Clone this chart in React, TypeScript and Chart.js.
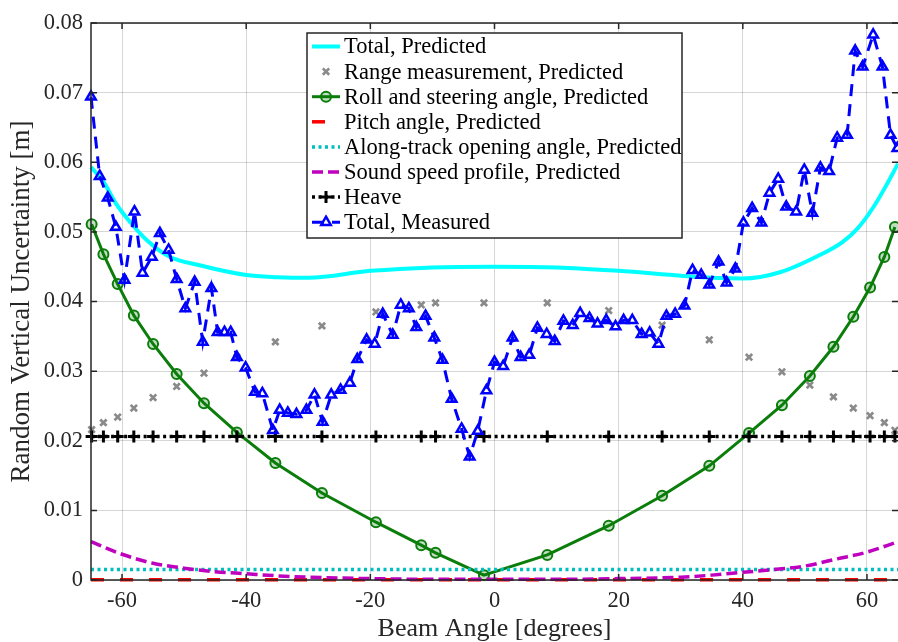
import React, { useEffect, useRef } from 'react';
import { Chart, registerables } from 'chart.js';
import { drawPoint } from 'chart.js/helpers';
Chart.register(...registerables);

// ---------- data ----------
const X_TICKS = [-60, -40, -20, 0, 20, 40, 60];
const Y_TICKS = [0, 0.01, 0.02, 0.03, 0.04, 0.05, 0.06, 0.07, 0.08];

const TOTAL_PRED_X = [-65, -63, -61, -58.5, -56, -52.5, -47.5, -40, -35, -30, -20, -10, 0, 10, 20, 30, 35, 40, 46, 52, 56, 58.5, 61, 63, 65];
const TOTAL_PRED = [0.0593, 0.0572, 0.0541, 0.0512, 0.0488, 0.0465, 0.0452, 0.0438, 0.0435, 0.0434, 0.0444, 0.0449, 0.045, 0.0449, 0.0444, 0.0437, 0.0434, 0.0433, 0.0442, 0.0465, 0.0485, 0.0505, 0.0535, 0.0565, 0.0598];

const ANGLES = [-64.9, -63, -60.7, -58.1, -55, -51.2, -46.8, -41.5, -35.3, -27.8, -19.1, -11.8, -9.5, -1.7, 8.5, 18.4, 27, 34.6, 41, 46.3, 50.8, 54.6, 57.8, 60.5, 62.8, 64.5];
const RANGE = [0.0216, 0.0226, 0.0234, 0.0247, 0.0262, 0.0278, 0.0297, 0.032, 0.0342, 0.0365, 0.0385, 0.0395, 0.0398, 0.0398, 0.0398, 0.0387, 0.0366, 0.0345, 0.032, 0.0299, 0.028, 0.0263, 0.0247, 0.0236, 0.0226, 0.0215];
const ROLL = [0.0511, 0.0468, 0.0425, 0.038, 0.0339, 0.0296, 0.0254, 0.0212, 0.0168, 0.0125, 0.0083, 0.005, 0.0039, 0.0007, 0.0036, 0.0078, 0.0121, 0.0164, 0.0211, 0.0251, 0.0293, 0.0335, 0.0378, 0.042, 0.0464, 0.0507];
const HEAVE = [0.0206, 0.0206, 0.0206, 0.0206, 0.0206, 0.0206, 0.0206, 0.0206, 0.0206, 0.0206, 0.0206, 0.0206, 0.0206, 0.0206, 0.0206, 0.0206, 0.0206, 0.0206, 0.0206, 0.0206, 0.0206, 0.0206, 0.0206, 0.0206, 0.0206, 0.0206];

const FLAT_X = [-65, 65];
const PITCH = [0.00005, 0.00005];
const ALONG_TRACK = [0.0015, 0.0015];

const SOUND_X = [-65, -60, -55, -50, -45, -40, -35, -30, -20, -10, 0, 10, 20, 30, 35, 40, 45, 50, 55, 60, 65];
const SOUND = [0.0055, 0.0037, 0.0024, 0.0017, 0.0012, 0.0009, 0.0006, 0.0004, 0.0002, 0.0001, 0.0001, 0.0001, 0.0002, 0.0004, 0.0007, 0.0011, 0.0015, 0.002, 0.003, 0.004, 0.0055];

const MEAS_X = [-65, -63.6, -62.3, -61, -59.6, -58, -56.7, -55.2, -53.9, -52.5, -51.2, -49.8, -48.3, -47, -45.6, -44.6, -43.5, -42.5, -41.5, -40.1, -38.6, -37.4, -35.7, -34.6, -33.3, -31.9, -30.3, -29, -27.7, -26.3, -24.8, -23.3, -22.1, -20.6, -19.3, -18, -16.4, -15.1, -13.8, -12.6, -11.1, -9.7, -8.4, -6.9, -5.3, -4, -2.7, -1.3, 0, 1.4, 2.9, 4.2, 5.6, 6.9, 8.4, 9.7, 11.1, 12.6, 13.8, 15.3, 16.6, 18, 19.5, 20.8, 22.2, 23.7, 25, 26.4, 27.7, 29.1, 30.6, 31.9, 33.3, 34.6, 36.1, 37.4, 38.8, 40.1, 41.5, 43, 44.3, 45.7, 47, 48.6, 49.9, 51.2, 52.5, 53.9, 55.2, 56.8, 58.1, 59.3, 61, 62.5, 63.8, 64.9];
const MEAS = [0.0694, 0.058, 0.0549, 0.0507, 0.0431, 0.0529, 0.0441, 0.0464, 0.0498, 0.0474, 0.0432, 0.039, 0.0428, 0.0342, 0.0419, 0.0356, 0.0356, 0.0356, 0.032, 0.0305, 0.027, 0.0268, 0.0215, 0.0244, 0.024, 0.0238, 0.0244, 0.0266, 0.0227, 0.0266, 0.0273, 0.0283, 0.0317, 0.0345, 0.0339, 0.0382, 0.0352, 0.0395, 0.039, 0.0363, 0.0379, 0.0348, 0.0316, 0.026, 0.0217, 0.0177, 0.0214, 0.0272, 0.0313, 0.0307, 0.0348, 0.032, 0.0323, 0.0362, 0.0353, 0.0343, 0.0372, 0.0366, 0.0383, 0.0376, 0.0368, 0.0373, 0.0364, 0.0373, 0.0373, 0.0353, 0.0355, 0.0339, 0.0379, 0.0382, 0.0394, 0.0445, 0.0438, 0.0424, 0.0457, 0.0427, 0.0447, 0.0513, 0.0534, 0.0513, 0.0556, 0.0576, 0.0536, 0.0529, 0.0589, 0.0527, 0.0592, 0.0587, 0.0635, 0.0639, 0.076, 0.0737, 0.0783, 0.0737, 0.0639, 0.062];

const LABELS = [
  'Total, Predicted',
  'Range measurement, Predicted',
  'Roll and steering angle, Predicted',
  'Pitch angle, Predicted',
  'Along-track opening angle, Predicted',
  'Sound speed profile, Predicted',
  'Heave',
  'Total, Measured',
];

const zip = (xs: number[], ys: number[]) => xs.map((x, i) => ({ x, y: ys[i] }));

const FONT = 'Liberation Serif';
const AXIS_COLOR = '#262626';

const boxPlugin = {
  id: 'boxAxes',
  afterDatasetsDraw(chart: any) {
    const { ctx, chartArea } = chart;
    const { left, right, top, bottom } = chartArea;
    const xs = chart.scales.x;
    const ys = chart.scales.y;
    ctx.save();
    ctx.strokeStyle = AXIS_COLOR;
    ctx.lineWidth = 1.5;
    ctx.setLineDash([]);
    // left, top and bottom axis lines (the right one falls on the picture's edge)
    ctx.beginPath();
    ctx.moveTo(right + 1, top);
    ctx.lineTo(left, top);
    ctx.lineTo(left, bottom);
    ctx.lineTo(right + 1, bottom);
    ctx.stroke();
    const tl = 6;
    ctx.beginPath();
    X_TICKS.forEach((v) => {
      const p = xs.getPixelForValue(v);
      ctx.moveTo(p, bottom);
      ctx.lineTo(p, bottom - tl);
      ctx.moveTo(p, top);
      ctx.lineTo(p, top + tl);
    });
    Y_TICKS.forEach((v) => {
      const p = ys.getPixelForValue(v);
      ctx.moveTo(left, p);
      ctx.lineTo(left + tl, p);
      ctx.moveTo(right + 1, p);
      ctx.lineTo(right - tl, p);
    });
    ctx.stroke();
    ctx.restore();
  },
};

const legendPlugin = {
  id: 'boxLegend',
  afterDraw(chart: any) {
    const { ctx } = chart;
    const x0 = 307, y0 = 33, w = 375, h = 205;
    ctx.save();
    ctx.fillStyle = '#ffffff';
    ctx.fillRect(x0, y0, w, h);
    ctx.strokeStyle = AXIS_COLOR;
    ctx.lineWidth = 1.5;
    ctx.setLineDash([]);
    ctx.strokeRect(x0, y0, w, h);
    chart.data.datasets.forEach((ds: any, i: number) => {
      const y = 46.5 + i * 25.1;
      if (ds.showLine) {
        ctx.save();
        ctx.strokeStyle = ds.borderColor;
        ctx.lineWidth = ds.borderWidth;
        ctx.setLineDash(ds.borderDash || []);
        ctx.lineCap = 'butt';
        ctx.beginPath();
        ctx.moveTo(312, y);
        ctx.lineTo(340, y);
        ctx.stroke();
        ctx.restore();
      }
      if (ds.pointRadius > 0) {
        ctx.save();
        ctx.setLineDash([]);
        ctx.strokeStyle = ds.pointBorderColor;
        ctx.fillStyle = ds.pointBackgroundColor;
        ctx.lineWidth = ds.pointBorderWidth;
        drawPoint(ctx, { pointStyle: ds.pointStyle, rotation: 0, radius: ds.pointRadius, borderWidth: ds.pointBorderWidth }, 326, y);
        ctx.restore();
      }
      ctx.fillStyle = '#000000';
      ctx.font = `22.5px "${FONT}"`;
      ctx.textBaseline = 'middle';
      ctx.textAlign = 'left';
      ctx.fillText(ds.label, 344, y + 1);
    });
    ctx.restore();
  },
};

const NOPT = 'rgba(0,0,0,0)';

export default function App() {
  const ref = useRef<HTMLCanvasElement | null>(null);
  useEffect(() => {
    if (!ref.current) return;
    const datasets: any[] = [
      {
        label: LABELS[0], data: zip(TOTAL_PRED_X, TOTAL_PRED), showLine: true,
        borderColor: '#00FFFF', borderWidth: 4, pointRadius: 0, cubicInterpolationMode: 'monotone', order: 8,
      },
      {
        label: LABELS[1], data: zip(ANGLES, RANGE), showLine: false,
        pointStyle: 'crossRot', pointRadius: 4.5, pointBorderWidth: 2.7, pointBorderColor: '#8a8a8a', pointBackgroundColor: '#8a8a8a',
        borderColor: '#8a8a8a', order: 7,
      },
      {
        label: LABELS[2], data: zip(ANGLES, ROLL), showLine: true, borderColor: '#0a7d0a', borderWidth: 3,
        pointStyle: 'circle', pointRadius: 5, pointBorderWidth: 2, pointBorderColor: '#0a7d0a', pointBackgroundColor: 'rgba(10,125,10,0.25)', order: 6,
      },
      {
        label: LABELS[3], data: zip(FLAT_X, PITCH), showLine: true, borderColor: '#FF0000', borderWidth: 3.5,
        borderDash: [13, 16], pointRadius: 0, order: 5,
      },
      {
        label: LABELS[4], data: zip(FLAT_X, ALONG_TRACK), showLine: true, borderColor: '#00BFBF', borderWidth: 3.5,
        borderDash: [3, 3.5], pointRadius: 0, order: 4,
      },
      {
        label: LABELS[5], data: zip(SOUND_X, SOUND), showLine: true, borderColor: '#BF00BF', borderWidth: 3.5,
        borderDash: [11, 5], pointRadius: 0, cubicInterpolationMode: 'monotone', order: 3,
      },
      {
        label: LABELS[6], data: zip(ANGLES, HEAVE), showLine: true, borderColor: '#000000', borderWidth: 3.5,
        borderDash: [3, 3.5], pointStyle: 'cross', pointRadius: 6, pointBorderWidth: 3, pointBorderColor: '#000000', pointBackgroundColor: '#000000', order: 2,
      },
      {
        label: LABELS[7], data: zip(MEAS_X, MEAS), showLine: true, borderColor: '#0000FF', borderWidth: 3,
        borderDash: [12, 8], pointStyle: 'triangle', pointRadius: 5.5, pointBorderWidth: 2.5, pointBorderColor: '#0000FF', pointBackgroundColor: NOPT, order: 1,
      },
    ];
    datasets.forEach((d) => { d.clip = false; d.pointHoverRadius = d.pointRadius; });
    const chart = new Chart(ref.current, {
      type: 'scatter',
      data: { datasets },
      options: {
        animation: false,
        responsive: false,
        maintainAspectRatio: false,
        events: [],
        layout: { autoPadding: false, padding: { top: 23, right: 0, bottom: 0, left: 0 } },
        plugins: { legend: { display: false }, tooltip: { enabled: false } },
        scales: {
          x: {
            type: 'linear', min: -65, max: 65,
            afterBuildTicks: (s: any) => { s.ticks = X_TICKS.map((v) => ({ value: v })); },
            afterFit: (s: any) => { s.height = 62; s.paddingLeft = 0; s.paddingRight = 0; },
            grid: { color: 'rgba(0,0,0,0.16)', lineWidth: 1, drawTicks: false },
            border: { display: false },
            ticks: { font: { family: FONT, size: 22.5 }, color: AXIS_COLOR, padding: 8, maxRotation: 0, autoSkip: false, callback: (v: any) => String(v) },
            title: { display: true, text: 'Beam Angle [degrees]', font: { family: FONT, size: 26, lineHeight: 1 }, color: AXIS_COLOR, padding: { top: 0, bottom: 0 } },
          },
          y: {
            type: 'linear', min: 0, max: 0.08,
            afterBuildTicks: (s: any) => { s.ticks = Y_TICKS.map((v) => ({ value: v })); },
            afterFit: (s: any) => { s.width = 91; s.paddingTop = 0; s.paddingBottom = 0; },
            grid: { color: 'rgba(0,0,0,0.16)', lineWidth: 1, drawTicks: false },
            border: { display: false },
            ticks: { font: { family: FONT, size: 22.5 }, color: AXIS_COLOR, padding: 8, callback: (v: any) => (v === 0 ? '0' : Number(v).toFixed(2)) },
            title: { display: true, text: 'Random Vertical Uncertainty [m]', font: { family: FONT, size: 27, lineHeight: 1 }, color: AXIS_COLOR, padding: { top: 8, bottom: 0 } },
          },
        },
      },
      plugins: [boxPlugin, legendPlugin],
    });
    return () => chart.destroy();
  }, []);
  return (
    <div style={{ position: 'absolute', left: 0, top: 0, width: 898, height: 642, background: '#fff' }}>
      <canvas ref={ref} width={898} height={642} style={{ display: 'block', width: 898, height: 642 }} />
    </div>
  );
}
